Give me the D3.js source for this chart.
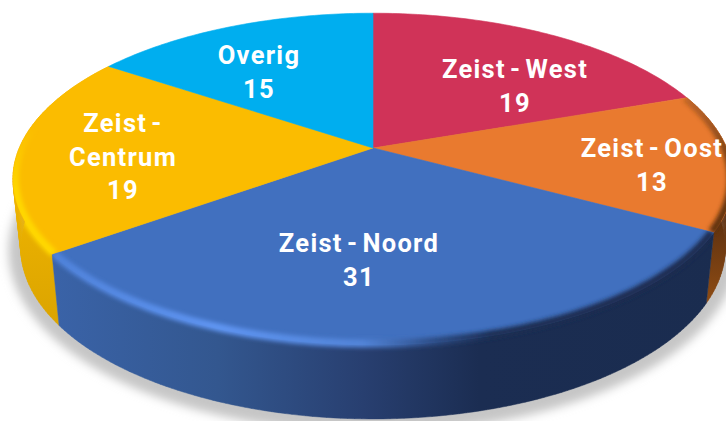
<!DOCTYPE html>
<html><head><meta charset="utf-8">
<script src="https://cdn.jsdelivr.net/npm/d3@7"></script>
<style>html,body{margin:0;padding:0;background:#fff;overflow:hidden}svg{display:block}
text{font-family:Roboto,sans-serif;font-weight:700;fill:#fff;text-anchor:middle;font-size:25.5px;letter-spacing:1.3px;word-spacing:-3.5px}</style>
</head><body><svg id="c" width="726" height="421"></svg>
<script>
const categories = ["Zeist - West", "Zeist - Oost", "Zeist - Noord", "Zeist - Centrum", "Overig"];
const values = [19, 13, 31, 19, 15];
const colors = ["#D03358", "#E97A2F", "#4170BF", "#FBBC00", "#00AEEF"];

const W = 726, H = 421;
const tilt = 0.187, cx = 373;
const topPlane = {R: 353.7, S: 160, y0: 148};
const basePlane = {R: 346, S: 165, y0: 216};
const project = (plane, a, f = 1) => {
  const u = Math.sin(a) * f, v = -Math.cos(a) * f, w = 1 - tilt * v;
  return [cx + plane.R * u / w, plane.y0 + plane.S * v / w];
};
const arcPts = (plane, a0, a1, f = 1) => {
  const n = Math.max(2, Math.ceil(Math.abs(a1 - a0) * 60));
  return d3.range(n + 1).map(i => project(plane, a0 + (a1 - a0) * i / n, f));
};
const line = d3.line();
// the swept side of a slice: one quad per arc step, so the silhouette stays filled
const wallPath = (a0, a1) => {
  const t = arcPts(topPlane, a0, a1), b = arcPts(basePlane, a0, a1);
  return d3.range(t.length - 1).map(i => line([t[i], t[i + 1], b[i + 1], b[i]]) + "Z").join("");
};
const svg = d3.select("#c");
const defs = svg.append("defs");
const blur = (id, s) => defs.append("filter").attr("id", id)
  .attr("filterUnits", "userSpaceOnUse").attr("x", -50).attr("y", -50).attr("width", W + 100).attr("height", H + 100)
  .append("feGaussianBlur").attr("stdDeviation", s);
blur("shadow", 5); blur("soft", 2);

const grad = (id, horizontal, stops) => {
  const g = defs.append("linearGradient").attr("id", id).attr("gradientUnits", "userSpaceOnUse")
    .attr("x1", 0).attr("y1", 0).attr("x2", horizontal ? W : 0).attr("y2", horizontal ? 0 : H);
  stops.forEach(([o, c, op]) => g.append("stop").attr("offset", o).attr("stop-color", c).attr("stop-opacity", op === undefined ? 1 : op));
};
grad("wall2", true, [[0.07, "#3A63A8"], [0.3, "#33578F"], [0.5, "#283F70"], [0.66, "#1B2D52"], [1, "#1A2C4F"]]);
grad("wall3", false, [[0.4, "#F2B600"], [0.8, "#D9A300"]]);
grad("wall1", false, [[0.5, "#5A2E0F"], [0.72, "#8E4C14"]]);
grad("rim2", true, [[0.07, "#4F82DA"], [0.3, "#5F95F2"], [0.5, "#5284D8"], [0.6, "#2C4C85"], [0.68, "#1B2D52"], [1, "#1A2C4F"]]);
grad("rim3", false, [[0.3, "#FFD800", 0], [0.45, "#FFD800"], [0.62, "#FFD800"]]);
grad("rim1", false, [[0.2, "#6B3A12", 0.2], [0.4, "#6B3A12"], [0.6, "#5A2E0F"]]);
const wallFill = {1: "url(#wall1)", 2: "url(#wall2)", 3: "url(#wall3)"};
const rimFill = {1: "url(#rim1)", 2: "url(#rim2)", 3: "url(#rim3)"};

const pie = d3.pie().sort(null).value(d => d)(values);

// drop shadow under the base
const shadowPlane = {R: basePlane.R + 12, S: basePlane.S + 10, y0: basePlane.y0 + 1};
svg.append("path").attr("d", line(arcPts(shadowPlane, 0, 2 * Math.PI)) + "Z")
  .attr("fill", "#c6c6c6").attr("filter", "url(#shadow)");

// side walls
[1, 3, 2].forEach(i => {
  const p = pie[i];
  svg.append("path").attr("d", wallPath(p.startAngle, p.endAngle))
    .attr("fill", wallFill[i]).attr("stroke", wallFill[i]).attr("stroke-width", 0.5);
});

// top faces
pie.forEach((p, i) => {
  const pts = [project(topPlane, 0, 0)].concat(arcPts(topPlane, p.startAngle, p.endAngle));
  svg.append("path").attr("d", line(pts) + "Z").attr("fill", colors[i]).attr("stroke", colors[i]).attr("stroke-width", 0.6);
});

// bevel along the rim, kept inside each slice and its wall
[1, 3, 2].forEach(i => {
  const p = pie[i];
  const face = [project(topPlane, 0, 0)].concat(arcPts(topPlane, p.startAngle, p.endAngle));
  const cp = defs.append("clipPath").attr("id", "clip" + i);
  cp.append("path").attr("d", line(face) + "Z");
  cp.append("path").attr("d", wallPath(p.startAngle, p.endAngle));
  svg.append("g").attr("clip-path", `url(#clip${i})`).append("path")
    .attr("d", line(arcPts(topPlane, p.startAngle, p.endAngle, 0.995)))
    .attr("fill", "none").attr("stroke", rimFill[i]).attr("stroke-width", 8)
    .attr("filter", "url(#soft)");
});

// labels
const lineGap = 33.5;
const labelLines = [["Zeist - West", "19"], ["Zeist - Oost", "13"], ["Zeist - Noord", "31"], ["Zeist -", "Centrum", "19"], ["Overig", "15"]];
const labelAt = [[515, 78], [652, 157], [359, 252], [123, 132], [259, 64]];
labelLines.forEach((ls, i) => {
  ls.forEach((t, j) => svg.append("text").attr("x", labelAt[i][0]).attr("y", labelAt[i][1] + j * lineGap).text(t));
});
</script></body></html>
